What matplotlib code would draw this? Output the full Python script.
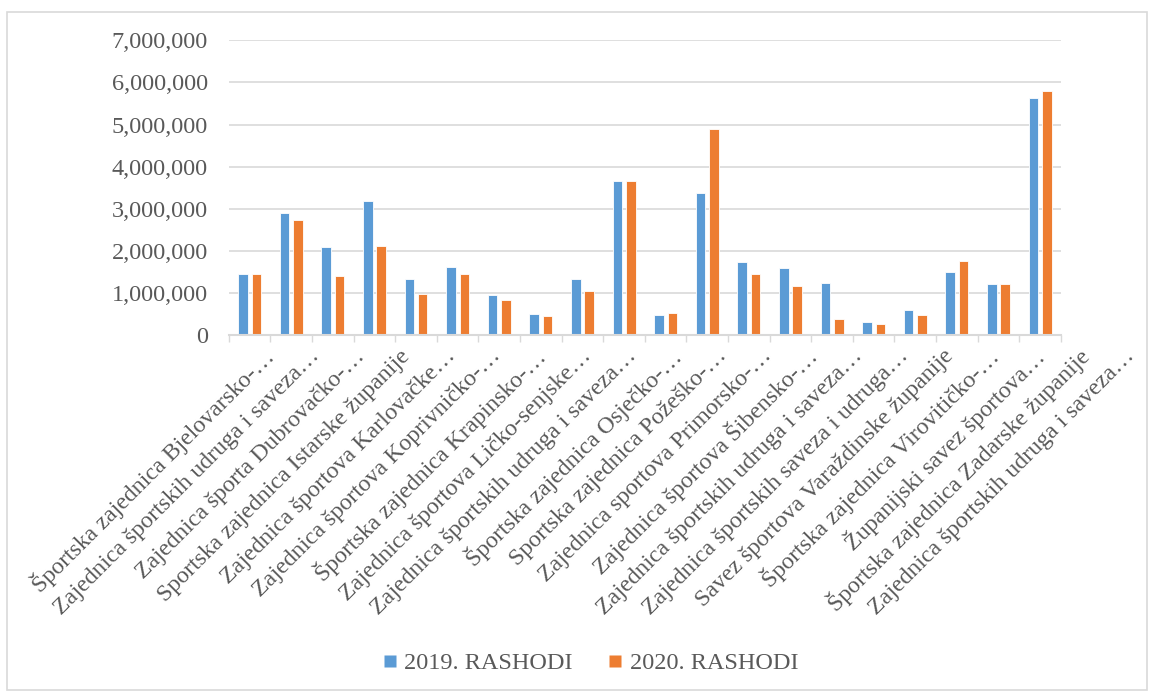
import numpy as np
import matplotlib.pyplot as plt
import matplotlib.transforms as mtransforms
from matplotlib.ticker import FuncFormatter
from matplotlib.patches import Rectangle
from matplotlib.lines import Line2D

# Podaci
kategorije = [
    "Športska zajednica Bjelovarsko-…",
    "Zajednica športskih udruga i saveza…",
    "Zajednica športa Dubrovačko-…",
    "Sportska zajednica Istarske županije",
    "Zajednica športova Karlovačke…",
    "Zajednica športova Koprivničko-…",
    "Športska zajednica Krapinsko-…",
    "Zajednica športova Ličko-senjske…",
    "Zajednica športskih udruga i saveza…",
    "Športska zajednica Osječko-…",
    "Sportska zajednica Požeško-…",
    "Zajednica sportova Primorsko-…",
    "Zajednica športova Šibensko-…",
    "Zajednica športskih udruga i saveza…",
    "Zajednica športskih saveza i udruga…",
    "Savez športova Varaždinske županije",
    "Športska zajednica Virovitičko-…",
    "Županijski savez športova…",
    "Športska zajednica Zadarske županije",
    "Zajednica športskih udruga i saveza…",
]
rashodi_2019 = [1440000, 2900000, 2090000, 3190000, 1330000, 1620000, 940000,
                500000, 1330000, 3650000, 480000, 3370000, 1730000, 1580000,
                1240000, 300000, 590000, 1490000, 1200000, 5620000]
rashodi_2020 = [1460000, 2720000, 1410000, 2120000, 970000, 1440000, 820000,
                440000, 1050000, 3660000, 530000, 4890000, 1460000, 1160000,
                370000, 270000, 470000, 1760000, 1210000, 5800000]
serije = ["2019. RASHODI", "2020. RASHODI"]
yticks = [0, 1000000, 2000000, 3000000, 4000000, 5000000, 6000000, 7000000]

plava = "#5B9BD5"
narancasta = "#ED7D31"
siva_tekst = "#595959"
siva_linija = "#D9D9D9"

plt.rcParams['font.family'] = ['Liberation Serif', 'DejaVu Serif']

fig = plt.figure(figsize=(11.5, 6.93), dpi=100)
ax = fig.add_axes([0.199, 0.5166, 0.7235, 0.4252])

x = np.arange(len(kategorije))
sirina = 0.23
ax.bar(x - 0.16, rashodi_2019, sirina, color=plava, edgecolor="white",
       linewidth=0.6, zorder=3)
ax.bar(x + 0.16, rashodi_2020, sirina, color=narancasta, edgecolor="white",
       linewidth=0.6, zorder=3)

ax.set_xlim(-0.5, len(kategorije) - 0.5)
ax.set_ylim(0, 7000000)
ax.set_yticks(yticks)
ax.yaxis.set_major_formatter(FuncFormatter(lambda v, p: f"{int(v):,}"))
ax.tick_params(axis="y", length=0, labelsize=17.5, labelcolor=siva_tekst, pad=15)
ax.grid(axis="y", color=siva_linija, linewidth=1.2, zorder=0)

# oznake kategorija (ticks izmedju kategorija)
ax.set_xticks(np.arange(len(kategorije) + 1) - 0.5)
ax.set_xticklabels([])
ax.tick_params(axis="x", length=5, color=siva_linija, width=1)

for s in ["top", "right", "left"]:
    ax.spines[s].set_visible(False)
ax.spines["bottom"].set_color(siva_linija)
ax.spines["bottom"].set_linewidth(1.5)
ax.spines["bottom"].set_zorder(4)

# rotirani natpisi
for i, naziv in enumerate(kategorije):
    pomak = mtransforms.ScaledTranslation((21 + 3.7 * i) / 100, -18 / 100,
                                          fig.dpi_scale_trans)
    tr = mtransforms.blended_transform_factory(ax.transData, ax.transAxes) + pomak
    ax.text(i, 0, naziv, transform=tr, rotation=45, rotation_mode="anchor",
            ha="right", va="center", fontsize=17.2, color=siva_tekst)

# legenda s kvadraticima
oznake = [Line2D([], [], linestyle="none", marker="s", markersize=8,
                 markerfacecolor=c, markeredgecolor="none")
          for c in (plava, narancasta)]
leg = fig.legend(oznake, serije, loc="center", bbox_to_anchor=(0.514, 0.043),
                 ncol=2, frameon=False, fontsize=17.5, handlelength=0.5,
                 handletextpad=0.35, columnspacing=1.5)
for t in leg.get_texts():
    t.set_color(siva_tekst)

# okvir grafikona
fig.patches.append(Rectangle((0.006, 0.004), 0.991, 0.979, transform=fig.transFigure,
                             fill=False, edgecolor=siva_linija, linewidth=1.2))

fig.savefig("out.png", dpi=100)
